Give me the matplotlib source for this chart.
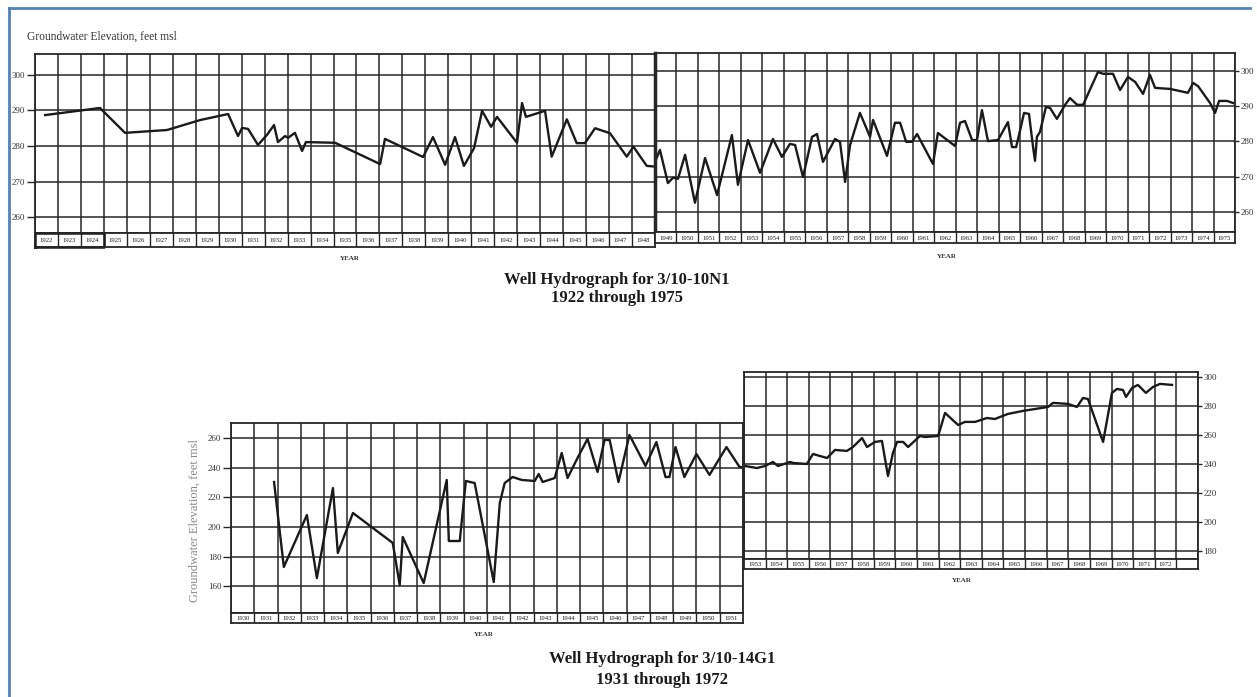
import matplotlib
matplotlib.use('Agg')
import matplotlib.pyplot as plt
from matplotlib.lines import Line2D
import numpy as np

W, H = 1257, 697

# well 3/10-10N1, 1922 through 1975 (year, feet msl)
n1_year = [1922.44, 1924.83, 1925.92, 1927.75, 1929.19, 1930.41, 1930.84, 1931.02, 1931.28, 1931.71,
           1932.10, 1932.41, 1932.58, 1932.89, 1933.02, 1933.32, 1933.63, 1933.80, 1935.07, 1937.03,
           1937.24, 1938.90, 1939.33, 1939.86, 1940.29, 1940.68, 1941.12, 1941.47, 1941.86, 1942.12,
           1942.99, 1943.21, 1943.38, 1944.21, 1944.50, 1945.16, 1945.59, 1945.95, 1946.39, 1947.04,
           1947.77, 1948.06, 1948.64, 1949.00, 1949.23, 1949.60, 1949.84, 1950.07, 1950.40, 1950.86,
           1951.33, 1951.89, 1952.58, 1952.86, 1953.33, 1953.89, 1954.49, 1954.91, 1955.28, 1955.52,
           1955.89, 1956.31, 1956.54, 1956.82, 1957.38, 1957.61, 1957.85, 1958.08, 1958.54, 1959.01,
           1959.15, 1959.80, 1960.17, 1960.41, 1960.69, 1960.96, 1961.20, 1961.94, 1962.17, 1962.97,
           1963.20, 1963.43, 1963.76, 1963.99, 1964.22, 1964.50, 1964.97, 1965.43, 1965.62, 1965.81,
           1965.99, 1966.18, 1966.41, 1966.60, 1966.69, 1966.78, 1966.92, 1967.20, 1967.39, 1967.71,
           1968.09, 1968.32, 1968.65, 1968.93, 1969.62, 1969.86, 1970.32, 1970.65, 1971.02, 1971.35,
           1971.72, 1972.04, 1972.28, 1972.98, 1973.81, 1974.05, 1974.28, 1974.84, 1975.07, 1975.26,
           1975.63, 1975.91]
n1_elev = [288.7, 290.7, 283.7, 284.5, 287.3, 289.0, 282.8, 285.1, 284.8, 280.3,
           283.1, 285.9, 281.1, 282.8, 282.3, 283.7, 278.6, 281.1, 280.9, 274.9,
           282.0, 276.9, 282.5, 274.7, 282.5, 274.4, 279.4, 289.9, 285.4, 288.2,
           280.9, 292.1, 288.2, 289.9, 277.0, 287.5, 280.8, 280.8, 285.0, 283.6,
           277.0, 279.8, 274.4, 274.2, 277.6, 268.2, 269.7, 269.4, 276.2, 262.6,
           275.3, 264.8, 281.8, 267.7, 280.4, 271.1, 280.7, 275.6, 279.3, 279.0,
           269.9, 281.3, 282.1, 274.2, 280.7, 279.9, 268.5, 279.0, 288.1, 281.3,
           286.1, 275.9, 285.3, 285.3, 279.9, 279.9, 282.1, 273.6, 282.4, 278.7,
           285.3, 285.8, 280.4, 280.4, 288.9, 280.1, 280.4, 285.5, 278.4, 278.4,
           283.0, 288.1, 287.8, 278.4, 274.5, 281.3, 282.7, 289.8, 289.5, 286.4,
           290.4, 292.3, 290.4, 290.4, 299.7, 299.2, 299.2, 294.6, 298.3, 296.9,
           293.5, 298.9, 295.2, 294.9, 293.8, 296.6, 295.7, 290.9, 288.1, 291.5,
           291.5, 290.9]

# well 3/10-14G1, 1931 through 1972
g1_year = [1931.85, 1932.27, 1933.26, 1933.69, 1934.38, 1934.59, 1935.24, 1936.95, 1937.25, 1937.38,
           1938.28, 1939.27, 1939.36, 1939.83, 1940.09, 1940.47, 1941.29, 1941.55, 1941.76, 1942.10,
           1942.49, 1943.05, 1943.22, 1943.39, 1943.91, 1944.21, 1944.46, 1944.89, 1945.32, 1945.75,
           1946.05, 1946.27, 1946.65, 1947.12, 1947.81, 1948.28, 1948.67, 1948.84, 1949.10, 1949.48,
           1950.00, 1950.56, 1951.29, 1951.85, 1953.05, 1953.60, 1953.97, 1954.34, 1954.57, 1955.13,
           1955.27, 1955.91, 1956.19, 1956.84, 1957.21, 1957.76, 1958.04, 1958.46, 1958.69, 1959.06,
           1959.38, 1959.66, 1959.89, 1960.08, 1960.36, 1960.59, 1961.14, 1961.37, 1961.98, 1962.30,
           1962.90, 1963.22, 1963.69, 1964.24, 1964.61, 1964.84, 1965.21, 1965.91, 1967.06, 1967.29,
           1967.99, 1968.40, 1968.68, 1968.91, 1969.61, 1970.02, 1970.25, 1970.53, 1970.67, 1970.95,
           1971.22, 1971.59, 1971.92, 1972.24, 1972.80]
g1_elev = [230.5, 172.9, 208.1, 165.4, 226.4, 182.4, 209.5, 189.2, 160.7, 193.2,
           162.0, 231.9, 190.5, 190.5, 231.2, 229.8, 162.7, 216.3, 229.8, 233.9,
           231.9, 231.2, 235.9, 230.5, 233.2, 250.2, 233.2, 246.8, 259.7, 237.3,
           259.0, 259.0, 230.5, 262.4, 241.4, 257.6, 233.9, 233.9, 254.2, 233.9,
           249.5, 235.3, 254.2, 240.7, 238.6, 237.2, 238.6, 241.4, 238.6, 241.4,
           240.7, 240.0, 246.9, 244.1, 249.7, 249.0, 251.7, 257.9, 251.7, 255.2,
           255.9, 231.7, 247.6, 255.2, 255.2, 251.7, 259.3, 258.6, 259.3, 275.2,
           266.9, 269.0, 269.0, 271.7, 271.0, 272.4, 274.5, 276.6, 279.3, 282.1,
           281.4, 279.3, 285.5, 284.8, 255.2, 289.0, 291.7, 291.0, 286.2, 292.4,
           294.5, 289.0, 293.1, 295.2, 294.5]

# panel year ranges (label cells) and elevation ticks
top_left_years = list(range(1922, 1949))
top_right_years = list(range(1949, 1976))
bot_left_years = list(range(1930, 1952))
bot_right_years = list(range(1953, 1974))
top_ticks = [260, 270, 280, 290, 300]
bot_ticks = [160, 180, 200, 220, 240, 260]
bot_right_ticks = [180, 200, 220, 240, 260, 280, 300]

SERIF = ['Liberation Serif', 'DejaVu Serif']
INK = '#1a1a1a'
GRID = '#262626'

fig = plt.figure(figsize=(W / 100, H / 100), dpi=100)
fig.patch.set_facecolor('white')


def px_axes(x0, y0, x1, y1):
    return fig.add_axes([x0 / W, 1 - y1 / H, (x1 - x0) / W, (y1 - y0) / H])


def panel(box, strip_bottom, years, ylim, ticks, right=False, cell_years=None):
    x0, y0, x1, y1 = box
    ax = px_axes(x0, y0, x1, y1)
    ax.set_xlim(years[0], years[-1] + 1)
    ax.set_ylim(*ylim)
    ax.set_xticks(np.arange(years[0], years[-1] + 2))
    ax.tick_params(axis='x', length=0, labelbottom=False)
    ax.set_yticks(ticks)
    ax.set_yticklabels([str(t) for t in ticks], fontfamily=SERIF, fontsize=6.5, color='#333333')
    if right:
        ax.yaxis.tick_right()
        ax.tick_params(axis='y', length=3, width=1.0, color=GRID, pad=1)
    else:
        ax.tick_params(axis='y', length=6, width=1.0, color=GRID, pad=1)
    ax.grid(True, color=GRID, lw=1.1)
    for s in ax.spines.values():
        s.set_linewidth(1.3)
        s.set_color(GRID)
    ax.set_axisbelow(True)

    st = px_axes(x0, y1, x1, strip_bottom)
    st.set_xlim(years[0], years[-1] + 1)
    st.set_ylim(0, 1)
    st.set_xticks([])
    st.set_yticks([])
    for s in st.spines.values():
        s.set_linewidth(1.3)
        s.set_color(GRID)
    for yr in years[1:]:
        st.axvline(yr, color=GRID, lw=1.0)
    labels = cell_years if cell_years is not None else years
    for yr, lab in zip(years, labels):
        if lab is None:
            continue
        st.text(yr + 0.5, 0.45, str(lab), ha='center', va='center',
                fontfamily=SERIF, fontsize=4.8, color=INK)
    return ax, st


# top chart, well 3/10-10N1
ax_tl, st_tl = panel((35, 54, 655, 233), 247, top_left_years, (255.5, 305.9), top_ticks)
ax_tl.plot(n1_year, n1_elev, color=INK, lw=1.7)
# first three year cells are boxed heavier on the original sheet
st_tl.plot([1922, 1925, 1925, 1922, 1922], [0.03, 0.03, 0.97, 0.97, 0.03], color=INK, lw=1.8,
           clip_on=False)
ax_tr, _ = panel((655, 53, 1235, 232), 243, top_right_years, (254.3, 305.1), top_ticks, right=True)
ax_tr.plot(n1_year, n1_elev, color=INK, lw=1.7)
ax_tr.spines['left'].set_linewidth(2.5)

# bottom chart, well 3/10-14G1
ax_bl, _ = panel((231, 423, 743, 613), 623, bot_left_years, (141.7, 270.5), bot_ticks)
ax_bl.plot(g1_year, g1_elev, color=INK, lw=1.7)
ax_br, _ = panel((744, 372, 1198, 559), 569, bot_right_years, (174.5, 303.4), bot_right_ticks,
                 right=True, cell_years=bot_right_years[:-1] + [None])
ax_br.plot(g1_year, g1_elev, color=INK, lw=1.7)

# texts
fig.text(27 / W, 1 - 37 / H, 'Groundwater Elevation, feet msl', fontfamily=SERIF,
         fontsize=8.3, color='#333333', va='center')
fig.text(195 / W, 1 - 520 / H, 'Groundwater Elevation, feet msl', fontfamily=SERIF,
         fontsize=9, color='#888888', rotation=90, ha='center', va='center')
for x, y in [(350, 258), (947, 256), (484, 634), (962, 581)]:
    fig.text(x / W, 1 - y / H, 'YEAR', fontfamily=SERIF, fontsize=5, fontweight='bold',
             color='#333333', ha='center', va='center')

fig.text(617 / W, 1 - 280 / H, 'Well Hydrograph for 3/10-10N1', fontfamily=SERIF,
         fontsize=12, fontweight='bold', color=INK, ha='center', va='center')
fig.text(617 / W, 1 - 298 / H, '1922 through 1975', fontfamily=SERIF,
         fontsize=12, fontweight='bold', color=INK, ha='center', va='center')
fig.text(662 / W, 1 - 659 / H, 'Well Hydrograph for 3/10-14G1', fontfamily=SERIF,
         fontsize=12, fontweight='bold', color=INK, ha='center', va='center')
fig.text(662 / W, 1 - 680 / H, '1931 through 1972', fontfamily=SERIF,
         fontsize=12, fontweight='bold', color=INK, ha='center', va='center')

# blue frame (top and left edges)
blue = '#4f81bd'
fig.add_artist(Line2D([9 / W, 9 / W], [0, 1 - 8 / H], transform=fig.transFigure, color=blue, lw=2))
fig.add_artist(Line2D([9 / W, 1250 / W], [1 - 8 / H, 1 - 8 / H], transform=fig.transFigure,
                      color=blue, lw=2))

fig.savefig('out.png', dpi=100)
